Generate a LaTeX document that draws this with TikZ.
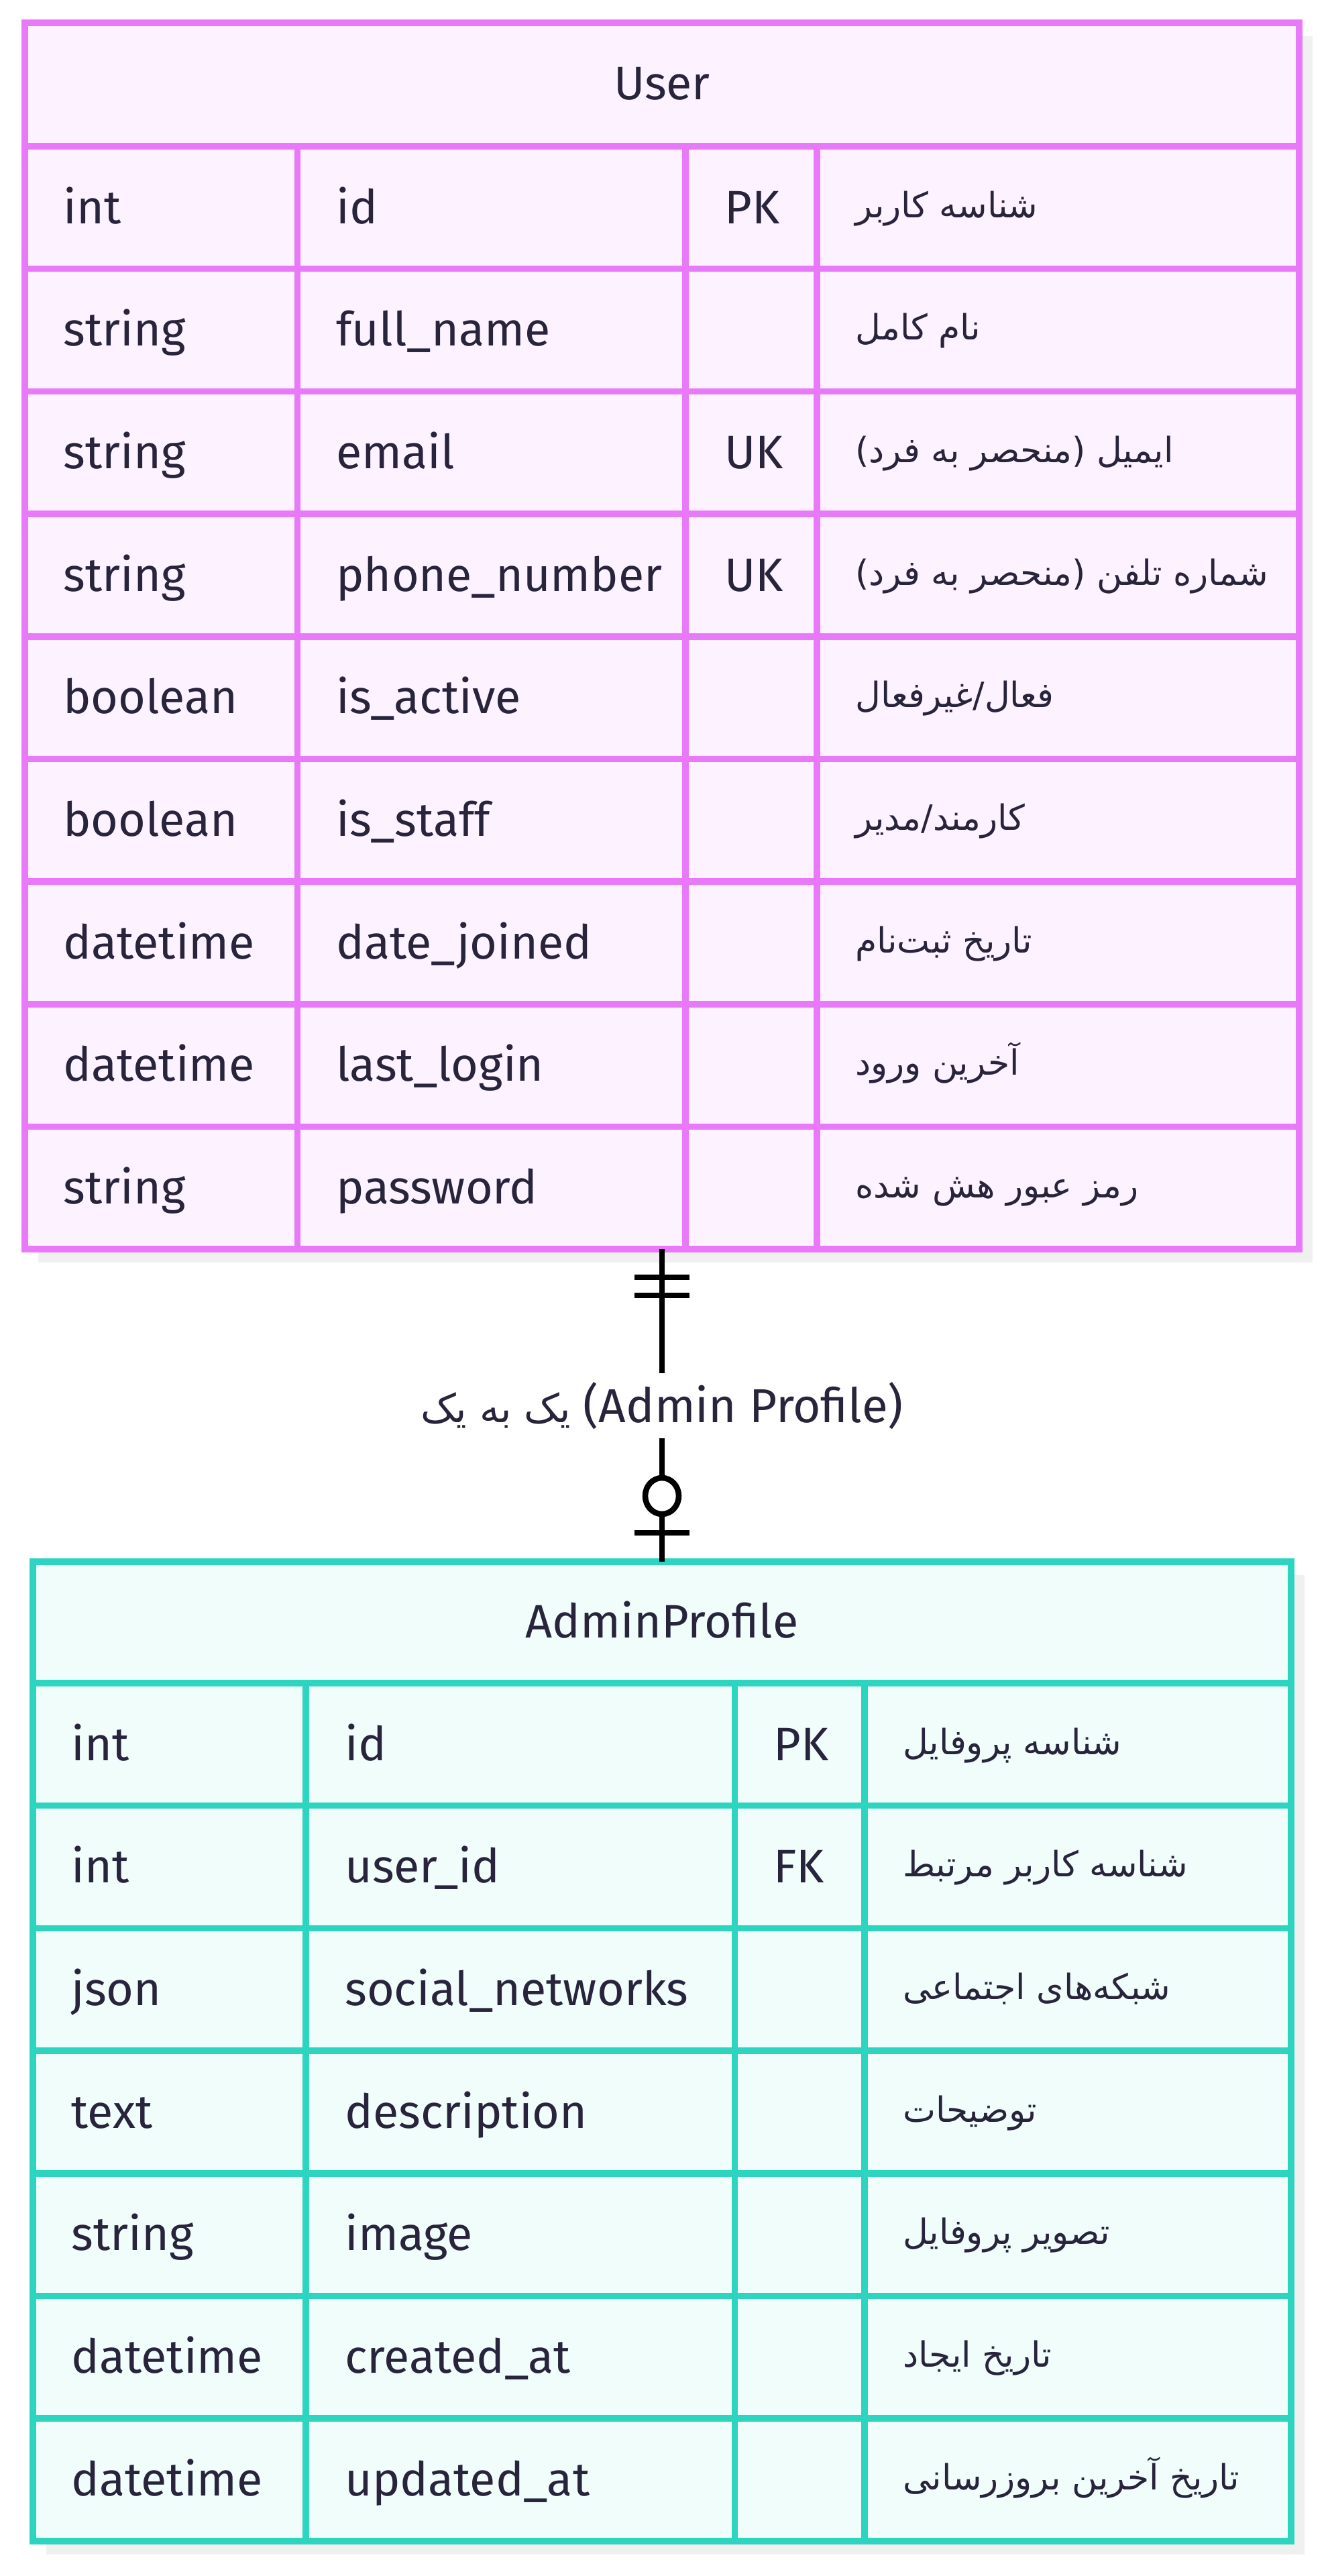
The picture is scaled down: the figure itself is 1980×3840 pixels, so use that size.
\documentclass[tikz,border=0pt]{standalone}
\usepackage{fontspec}
\setmainfont{Fira Sans}
\newfontfamily\fafont[Script=Arabic]{DejaVu Sans}
\TeXXeTstate=1
\usetikzlibrary{positioning}

\definecolor{ink}{HTML}{28243C}
\definecolor{userline}{HTML}{E879F9}
\definecolor{userfill}{HTML}{FDF2FF}
\definecolor{profline}{HTML}{2DD4BF}
\definecolor{proffill}{HTML}{F0FDFA}
\definecolor{shadowgray}{HTML}{F0F0F0}

\tikzset{
  entity/.style={draw, line width=4.75pt, inner sep=0pt, outer sep=0pt, anchor=north west},
  grid/.style={line width=4.75pt},
  cell/.style={anchor=base west, inner sep=0pt, text=ink, font=\fontsize{35}{42}\selectfont},
  facell/.style={anchor=base west, inner sep=0pt, text=ink, font=\fafont\fontsize{26}{32}\selectfont},
  title/.style={anchor=base, inner sep=0pt, text=ink, font=\fontsize{35}{42}\selectfont},
  rel/.style={line width=4.25pt, black},
}

\begin{document}
\begin{tikzpicture}[x=0.5pt, y=-0.5pt]
			\useasboundingbox (0,0) rectangle (1980,3840);
			% sombras
			\fill[shadowgray] (57,54) rectangle (1957,1882);
			\fill[shadowgray] (69,2348) rectangle (1945,3808);
			% tabela User
			\node[entity, draw=userline, fill=userfill, minimum width=950pt, minimum height=914pt] (user) at (37,34) {};
			\foreach \k in {0,...,8} {
					\draw[grid, userline] (37, {218+\k*182.7}) -- (1937, {218+\k*182.7});
				}
			\foreach \x in {443.5, 1022, 1218} {
					\draw[grid, userline] (\x, 218) -- (\x, 1862);
				}
			\node[title] (usertitle) at (987, 148) {User};
			\foreach \t/\n/\k/\d [count=\i] in {
					int/id/PK/شناسه کاربر,
					string/full\_name//نام کامل,
					string/email/UK/ایمیل (منحصر به فرد),
					string/phone\_number/UK/شماره تلفن (منحصر به فرد),
					boolean/is\_active//{فعال/غیرفعال},
					boolean/is\_staff//{کارمند/مدیر},
					datetime/date\_joined//تاریخ ثبت‌نام,
					datetime/last\_login//آخرین ورود,
					string/password//رمز عبور هش شده} {
					\node[cell] (ut\i) at (94, {333+(\i-1)*182.7}) {\t};
					\node[cell] (un\i) at (501, {333+(\i-1)*182.7}) {\n};
					\node[cell] (uk\i) at (1080, {333+(\i-1)*182.7}) {\k};
					\node[facell] (ud\i) at (1275, {324+(\i-1)*182.7}) {\beginR\d\endR};
				}
			% tabela AdminProfile
			\node[entity, draw=profline, fill=proffill, minimum width=938pt, minimum height=730pt] (profile) at (49,2328) {};
			\foreach \k in {0,...,6} {
					\draw[grid, profline] (49, {2509+\k*182.7}) -- (1925, {2509+\k*182.7});
				}
			\foreach \x in {456, 1095.5, 1289} {
					\draw[grid, profline] (\x, 2509) -- (\x, 3788);
				}
			\node[title] (proftitle) at (987, 2441) {AdminProfile};
			\foreach \t/\n/\k/\d [count=\i] in {
					int/id/PK/شناسه پروفایل,
					int/user\_id/FK/شناسه کاربر مرتبط,
					json/social\_networks//شبکه‌های اجتماعی,
					text/description//توضیحات,
					string/image//تصویر پروفایل,
					datetime/created\_at//تاریخ ایجاد,
					datetime/updated\_at//تاریخ آخرین بروزرسانی} {
					\node[cell] (pt\i) at (106, {2624+(\i-1)*182.7}) {\t};
					\node[cell] (pn\i) at (514, {2624+(\i-1)*182.7}) {\n};
					\node[cell] (pk\i) at (1153, {2624+(\i-1)*182.7}) {\k};
					\node[facell] (pd\i) at (1346, {2615+(\i-1)*182.7}) {\beginR\d\endR};
				}
			% relacao
			\node[inner sep=0pt, minimum height=48.5pt, text=ink, font=\fontsize{35.5}{42}\selectfont] (relname) at (987, 2095.5)
				{{\fafont\fontsize{29.5}{34}\selectfont\beginR یک به یک\endR} (Admin Profile)};
			\draw[rel] (user.south) -- (relname.north);
			\draw[rel] (relname.south) -- (profile.north);
			\foreach \d in {21, 34.5} {
					\draw[rel] ([xshift=-20.5pt, yshift=-\d pt]user.south) -- ([xshift=20.5pt, yshift=-\d pt]user.south);
				}
			\draw[rel, fill=white] ([yshift=49pt]profile.north) ellipse [x radius=12.5pt, y radius=13.5pt];
			\draw[rel] ([xshift=-20.5pt, yshift=21.5pt]profile.north) -- ([xshift=20.5pt, yshift=21.5pt]profile.north);
		\end{tikzpicture}
\end{document}
